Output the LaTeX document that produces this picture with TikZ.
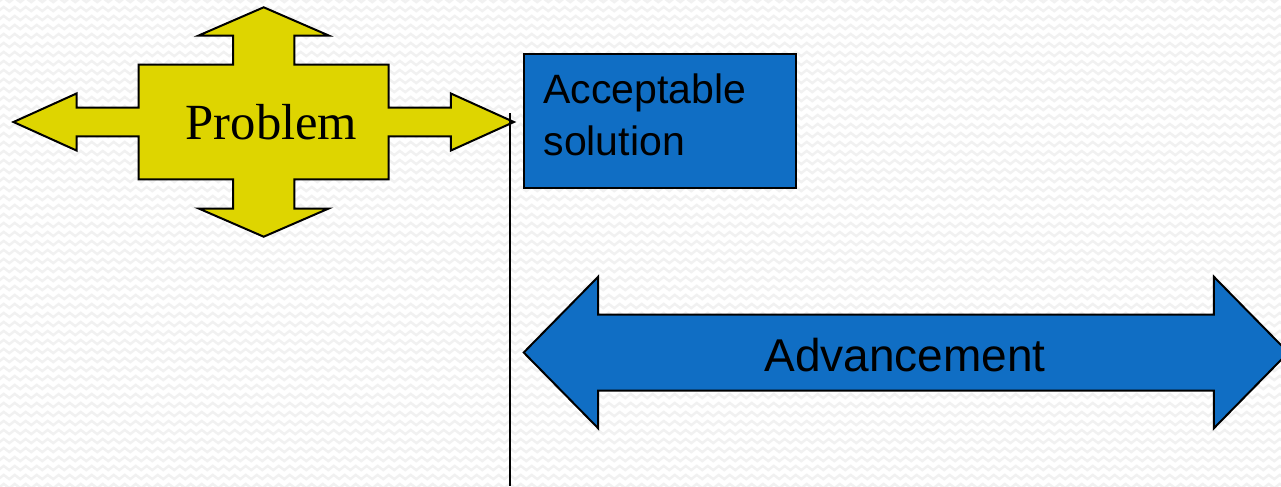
\documentclass[tikz,border=0pt]{standalone}
\usepackage{fontspec}
\usetikzlibrary{decorations.pathmorphing}
\newfontfamily\probfont{Liberation Serif}
\newfontfamily\labelfont{Liberation Sans}
\definecolor{probyellow}{RGB}{222,213,0}
\definecolor{stepblue}{RGB}{16,110,196}
\definecolor{bgwave}{RGB}{241,241,241}
\tikzset{
  shapeline/.style={draw=black, line width=1.5pt, line join=miter},
  yellowshape/.style={shapeline, fill=probyellow},
  blueshape/.style={shapeline, fill=stepblue},
  wave/.style={draw=bgwave, line width=1.8pt,
    decorate, decoration={zigzag, segment length=8.25pt, amplitude=1.6pt}},
}
\begin{document}
\begin{tikzpicture}[x=0.75pt, y=-0.75pt]
  % canvas and light wave texture
  \path[use as bounding box] (0,0) rectangle (1281,486);
  \clip (0,0) rectangle (1281,486);
  \fill[white] (0,0) rectangle (1281,486);
  \foreach \r in {0,9,...,495} {
    \draw[wave] (-10,\r) -- (1300,\r);
  }

  % four-way arrow around the problem
  \draw[yellowshape, shift={(263.7,122)}]
    (0,-114.7) -- (65,-86.5) -- (30.7,-86.5) -- (30.7,-57.4)
    -- (125,-57.4) -- (125,-14.3) -- (187.2,-14.3) -- (187.2,-28.5)
    -- (250.2,0) -- (187.2,28.5) -- (187.2,14.3) -- (125,14.3)
    -- (125,57.4) -- (30.7,57.4) -- (30.7,86.5) -- (65,86.5)
    -- (0,114.7) -- (-65,86.5) -- (-30.7,86.5) -- (-30.7,57.4)
    -- (-125,57.4) -- (-125,14.3) -- (-187.2,14.3) -- (-187.2,28.5)
    -- (-250.2,0) -- (-187.2,-28.5) -- (-187.2,-14.3) -- (-125,-14.3)
    -- (-125,-57.4) -- (-30.7,-57.4) -- (-30.7,-86.5) -- (-65,-86.5)
    -- cycle;
  \node[anchor=base, inner sep=0pt, font=\probfont\fontsize{38}{38}\selectfont]
    (problem) at (271.5,139.6) {Problem};
  \coordinate (problemtip) at (510,113);
  \coordinate (baseline) at (510,486);

  % solution box
  \node[blueshape, rectangle, anchor=north west, minimum width=203.5pt,
        minimum height=100.5pt, inner sep=0pt] (solution) at (523.3,52.7) {};
  \node[anchor=base west, inner sep=0pt, align=left,
        font=\labelfont\fontsize{30.75}{38.8}\selectfont]
    (solutiontext) at (543.3,155) {Acceptable\\solution};

  % two-way advancement arrow
  \draw[blueshape, shift={(906,352.5)}]
    (-382.3,0) -- (-307.8,-75.8) -- (-307.8,-38) -- (307.8,-38)
    -- (307.8,-75.8) -- (382.3,0) -- (307.8,75.8) -- (307.8,38)
    -- (-307.8,38) -- (-307.8,75.8) -- cycle;
  \node[anchor=base, inner sep=0pt, font=\labelfont\fontsize{34.5}{34.5}\selectfont]
    (advancement) at (905,371.7) {Advancement};

  % vertical line from the problem's right tip
  \draw[black, line width=1.6pt] (problemtip) -- (baseline);
\end{tikzpicture}
\end{document}
